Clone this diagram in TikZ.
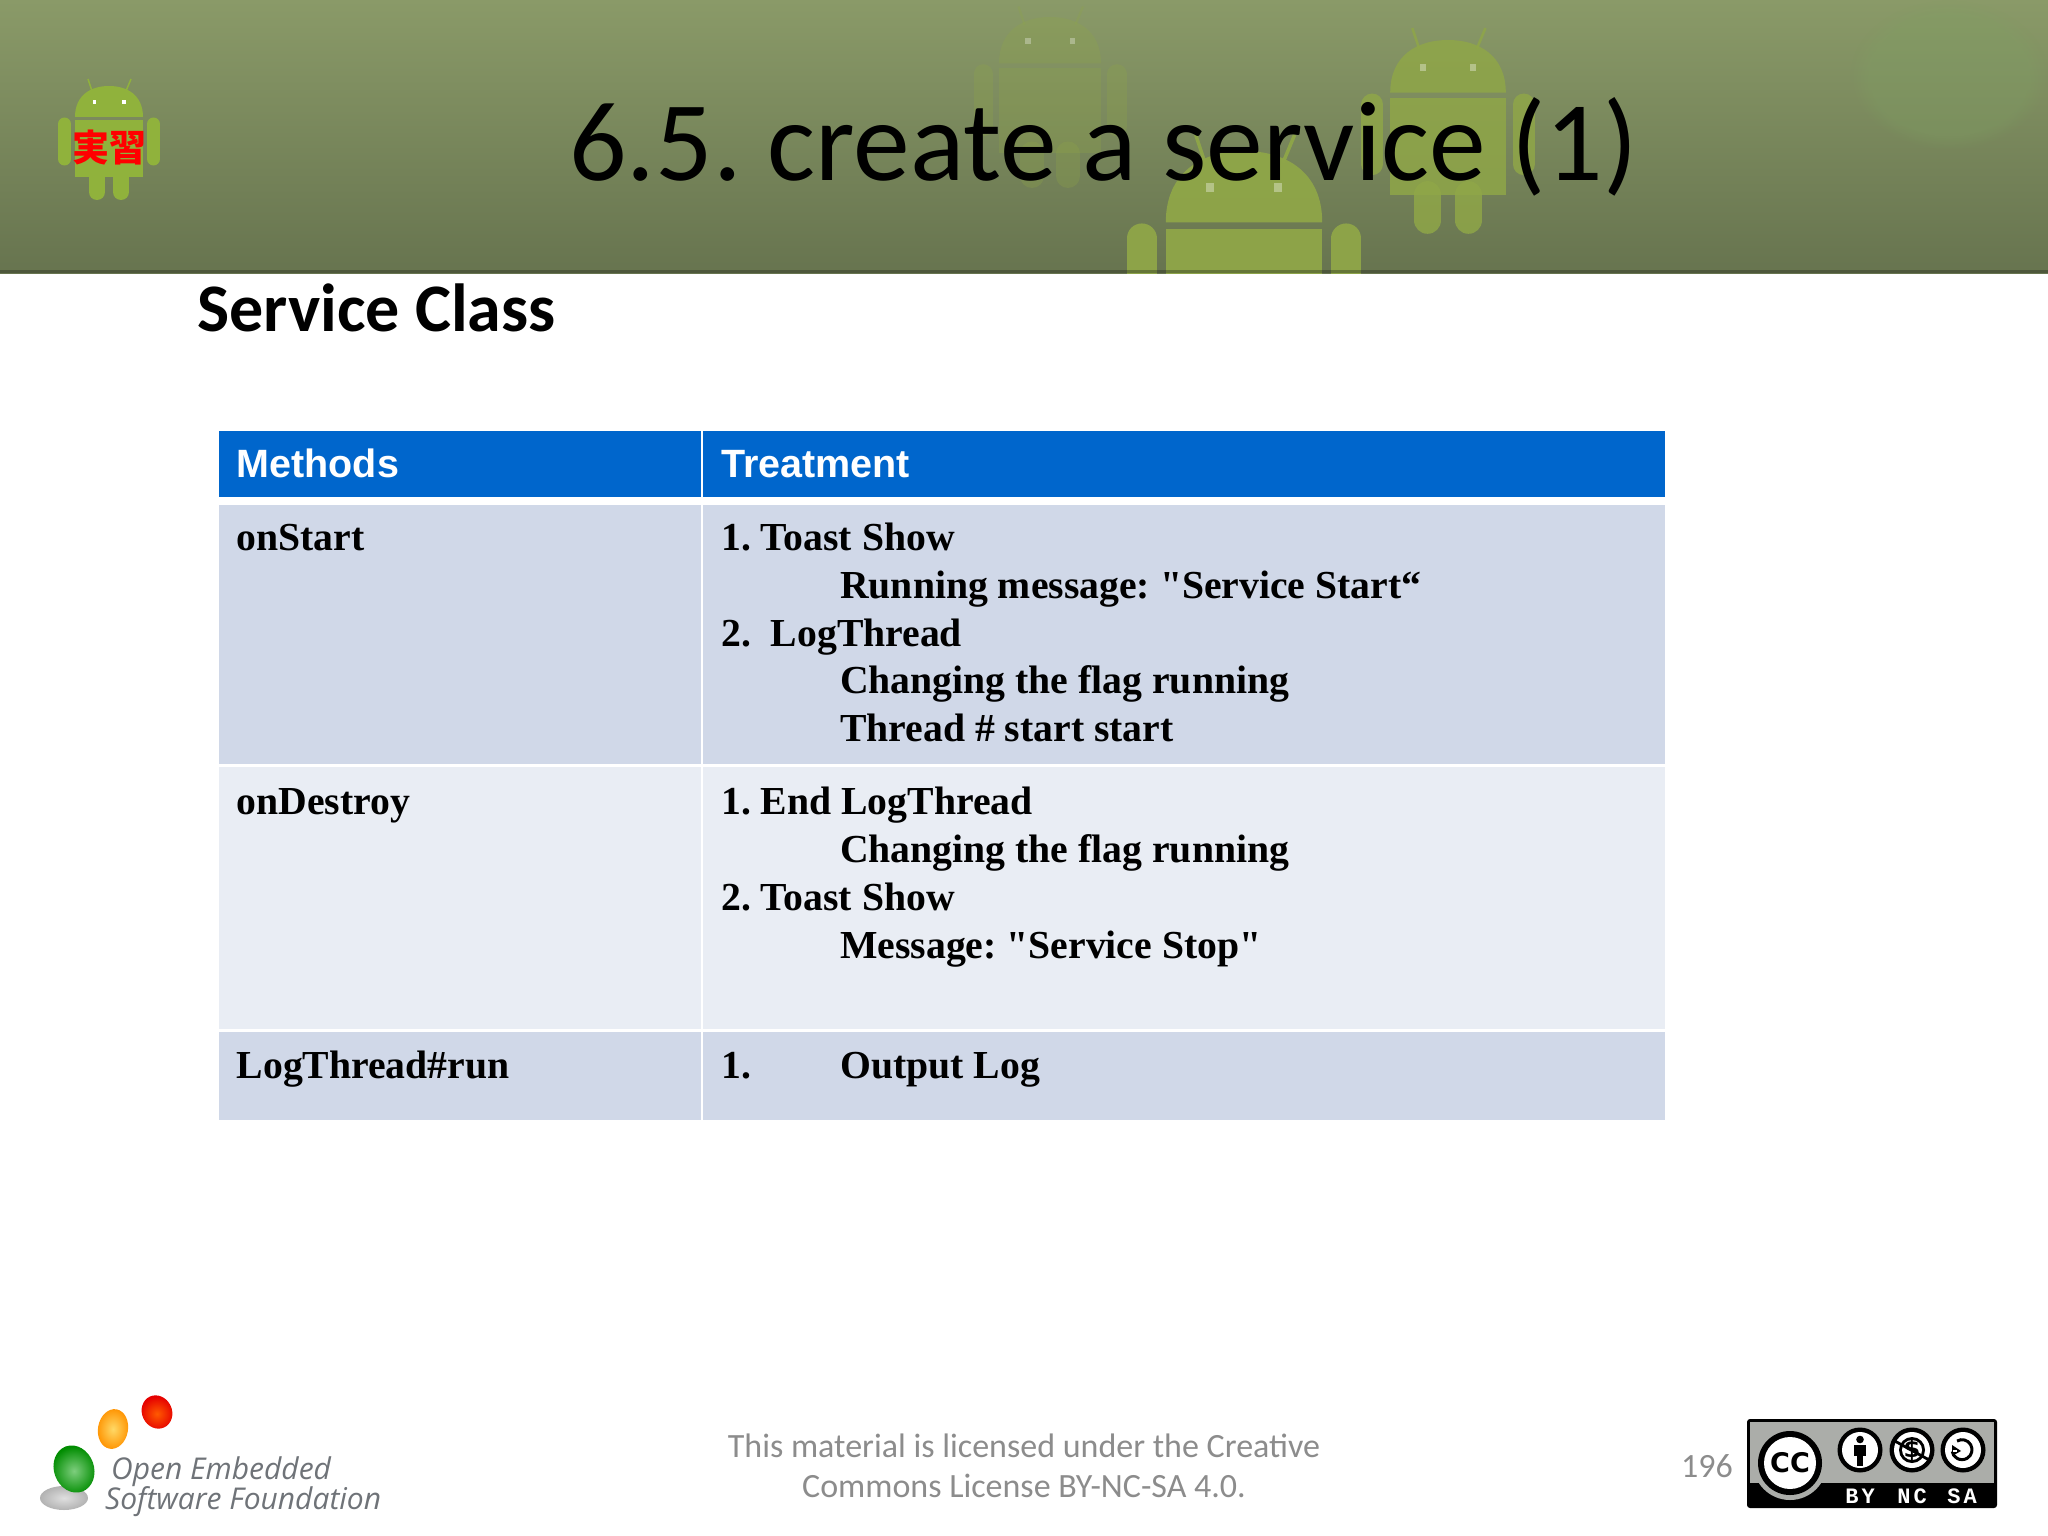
\documentclass[tikz,border=0pt]{standalone}
\usepackage{fontspec}
\setmainfont[Ligatures=TeXOff]{Liberation Serif}
\newfontfamily\carlitof{Carlito}
\newfontfamily\arialf{Liberation Sans}
\newfontfamily\cjkf{Noto Sans CJK JP}
\newfontfamily\logof{Open Sans}
\newfontfamily\dejaf{DejaVu Sans}
\newfontfamily\monof{Liberation Mono}
\usetikzlibrary{calc,fadings}
\definecolor{hdrtop}{HTML}{8A9A68}
\definecolor{hdrbot}{HTML}{67744F}
\definecolor{tblhead}{HTML}{0066CC}
\definecolor{rowdark}{HTML}{D0D8E8}
\definecolor{rowlight}{HTML}{E9EDF4}
\definecolor{footgray}{HTML}{8C8C8C}
\definecolor{droidgreen}{HTML}{90B23C}
\definecolor{fadegreen}{HTML}{8FA648}
\definecolor{blobgreen}{HTML}{7F9F62}
\definecolor{logogray}{HTML}{6F7378}
\definecolor{badgegray}{HTML}{ABADA9}
% centre x, head top y, scale, colour, opacity, eye opacity
\newcommand{\droid}[6]{%
  \begin{scope}[shift={(#1,#2)},scale=#3,opacity=#5]
    \fill[#4] (-34,31) .. controls (-34,9) and (-18,0) .. (0,0)
      .. controls (18,0) and (34,9) .. (34,31) -- cycle;
    \fill[#4] (-34,34) rectangle (34,91);
    \draw[#4,line width=#3*13pt,line cap=round] (-44.5,38) -- (-44.5,73);
    \draw[#4,line width=#3*13pt,line cap=round] (44.5,38) -- (44.5,73);
    \draw[#4,line width=#3*16pt,line cap=round] (-12,91) -- (-12,106);
    \draw[#4,line width=#3*16pt,line cap=round] (12,91) -- (12,106);
    \draw[#4,line width=#3*1.5pt] (-17,5) -- (-21,-7);
    \draw[#4,line width=#3*1.5pt] (17,5) -- (22,-7);
    \fill[white,opacity=#6] (-16.5,14) rectangle (-13,18);
    \fill[white,opacity=#6] (13,14) rectangle (16.5,18);
  \end{scope}}
\tikzset{
  x=1pt,y=-1pt,
  bodytxt/.style={anchor=base west,inner sep=0pt,font=\fontsize{39.7}{40}\selectfont\bfseries},
  headtxt/.style={anchor=base west,inner sep=0pt,text=white,font=\arialf\fontsize{39.5}{40}\selectfont\bfseries},
  foottxt/.style={anchor=center,inner sep=0pt,text=footgray,font=\carlitof\fontsize{34}{34}\selectfont},
  logotxt/.style={anchor=base west,inner sep=0pt,text=logogray,font=\logof\itshape\fontsize{30}{30}\selectfont},
  badgetxt/.style={anchor=center,inner sep=0pt,text=white,font=\monof\bfseries\fontsize{22}{22}\selectfont},
}
\begin{document}
\begin{tikzpicture}
\useasboundingbox (0,0) rectangle (2048,1536);
% banner
\shade[top color=hdrtop,bottom color=hdrbot] (0,0) rectangle (2048,273);
\begin{scope}
  \clip (0,0) rectangle (2048,273);
  \droid{1050}{17}{1.5}{fadegreen}{.28}{.3}
  \droid{1448}{40}{1.7}{fadegreen}{.85}{.35}
  \droid{1244}{151}{2.3}{fadegreen}{.95}{.35}
  \fill[blobgreen,opacity=.35,path fading=circle with fuzzy edge 20 percent] (1850,0) rectangle (2048,150);
\end{scope}
\fill[black!70!hdrbot,opacity=.35] (0,270) rectangle (2048,273);
\droid{109}{86}{1}{droidgreen}{1}{1}
\node[inner sep=0pt,text=red,font=\cjkf\bfseries\fontsize{37}{37}\selectfont] (badge) at (109,148) {実習};
\node[anchor=base,inner sep=0pt,font=\carlitof\fontsize{113.5}{113}\selectfont] (title) at (1103.5,180) {6.5.\kern0pt\ create a service (1)};
\node[anchor=base west,inner sep=0pt,font=\carlitof\fontsize{68}{68}\selectfont\bfseries] (subtitle) at (197,331) {Service Class};
% table
\fill[tblhead] (219,431) rectangle (701,497);
\fill[tblhead] (703,431) rectangle (1665,497);
\fill[rowdark] (219,505) rectangle (701,764);
\fill[rowdark] (703,505) rectangle (1665,764);
\fill[rowlight] (219,767) rectangle (701,1029);
\fill[rowlight] (703,767) rectangle (1665,1029);
\fill[rowdark] (219,1032) rectangle (701,1120);
\fill[rowdark] (703,1032) rectangle (1665,1120);
\node[headtxt] (h1) at (236.5,477) {Methods};
\node[headtxt] (h2) at (721,477) {Treatment};
\node[bodytxt] (m1) at (236.5,550) {onStart};
\node[bodytxt] (t11) at (721,550) {1.\kern0pt\ Toast Show};
\node[bodytxt] (t12) at (840,598) {Running message:\kern0pt\ "Service Start“};
\node[bodytxt] (t13) at (721,646) {2.\ \ LogThread};
\node[bodytxt] (t14) at (840,693) {Changing the flag running};
\node[bodytxt] (t15) at (840,741) {Thread \# start start};
\node[bodytxt] (m2) at (236.5,814) {onDestroy};
\node[bodytxt] (t21) at (721,814) {1.\kern0pt\ End LogThread};
\node[bodytxt] (t22) at (840,862) {Changing the flag running};
\node[bodytxt] (t23) at (721,910) {2.\kern0pt\ Toast Show};
\node[bodytxt] (t24) at (840,958) {Message:\kern0pt\ "Service Stop"};
\node[bodytxt] (m3) at (236.5,1078) {LogThread\#run};
\node[bodytxt] (t31) at (721,1078) {1.};
\node[bodytxt] (t32) at (840,1078) {Output Log};
% footer
\node[foottxt] (lic1) at (1024,1446) {This material is licensed under the Creative};
\node[foottxt] (lic2) at (1024,1486) {Commons License BY-NC-SA 4.0.};
\node[foottxt] (page) at (1707,1466) {196};
% logo
\shade[inner color=gray!25,outer color=gray!60] (64,1498) ellipse (24 and 12);
\shade[inner color=green!45!gray!70,outer color=green!55!black,rotate around={20:(74,1469)}] (74,1469) ellipse (20 and 24);
\shade[inner color=yellow!50!orange!60,outer color=orange!85!yellow,rotate around={-10:(113,1429)}] (113,1429) ellipse (15 and 20);
\shade[inner color=orange!70!red,outer color=red!90!black,rotate around={25:(157,1412)}] (157,1412) ellipse (15 and 17);
\node[logotxt] (logo1) at (111,1479) {Open Embedded};
\node[logotxt] (logo2) at (105,1509) {Software Foundation};
% cc badge
\fill[black,rounded corners=3pt] (1747,1419) rectangle (1997,1508);
\fill[badgegray] (1750,1422) rectangle (1994,1483);
\fill[badgegray] (1790,1463) circle (37);
\fill[black] (1790,1463) circle (32);
\fill[white] (1790,1463) circle (26);
\node[inner sep=0pt,font=\dejaf\bfseries\fontsize{27}{27}\selectfont] (cc) at (1790,1463) {CC};
\foreach \cx in {1860,1912,1963} {
  \fill[black] (\cx,1450) circle (22.5);
  \fill[white] (\cx,1450) circle (18);
}
\fill[black] (1860,1439.5) circle (3.8);
\fill[black] (1854,1445) rectangle (1866,1456);
\fill[black] (1857,1456) rectangle (1863,1466);
\fill[black] (1912,1450) circle (13);
\fill[white] (1912,1450) circle (10);
\node[inner sep=0pt,font=\dejaf\bfseries\fontsize{24}{24}\selectfont] (dollar) at (1912,1450) {\$};
\draw[black,line width=2.8pt] (1893,1440) -- (1931,1461);
\draw[black,line width=3pt] (1957,1441) arc[start angle=-120,end angle=170,radius=10];
\fill[black] (1952,1445) -- (1961,1451) -- (1952,1456) -- cycle;
\fill[white] (1953,1449.5) rectangle (1957,1452);
\node[badgetxt] (by) at (1860,1496) {B\kern3pt Y};
\node[badgetxt] (nc) at (1912,1496) {N\kern3pt C};
\node[badgetxt] (sa) at (1962,1496) {S\kern3pt A};
\end{tikzpicture}
\end{document}
